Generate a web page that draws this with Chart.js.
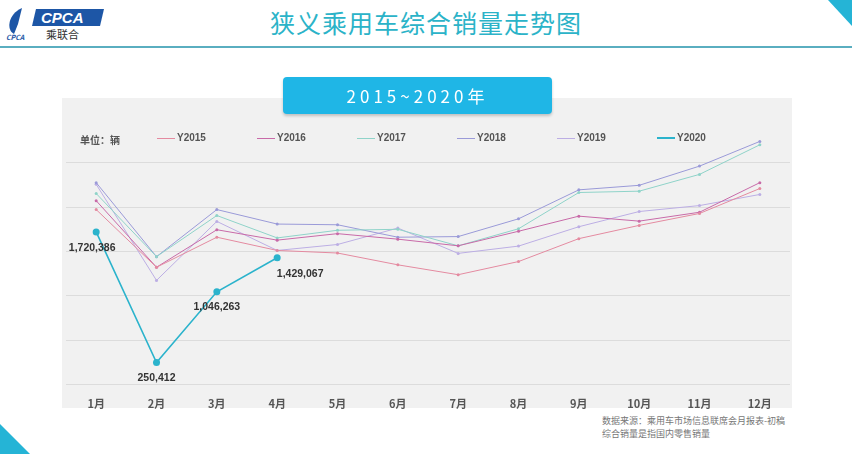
<!DOCTYPE html>
<html><head><meta charset="utf-8">
<script src="https://cdn.jsdelivr.net/npm/chart.js@4"></script>
<style>
body{margin:0;width:852px;height:454px;background:#fff;position:relative;overflow:hidden;font-family:"Noto Sans CJK SC",sans-serif}
#hdr{position:absolute;left:0;top:0;width:852px;text-align:center;top:4px;font-size:25px;color:#2bb3c8;letter-spacing:1px}
#line{position:absolute;left:0;top:46px;width:852px;height:2px;background:#5aaec0}
#panel{position:absolute;left:62px;top:98px;width:730px;height:310px;background:#f1f1f1}
#box{position:absolute;left:283px;top:77px;width:269px;height:37px;background:#1fb6e6;border-radius:4px;color:#fff;font-size:17px;text-align:center;line-height:37px;letter-spacing:4px;box-shadow:0 2px 3px rgba(0,0,0,.2)}
#cv{position:absolute;left:62px;top:98px}
#leg{position:absolute;left:62px;top:132px;width:730px;height:18px;font-size:10px;font-weight:bold;color:#555;font-family:"Liberation Sans",sans-serif}
#leg span{position:absolute;top:0}
.sw{display:inline-block;width:18px;height:1px;vertical-align:middle;margin-right:2px;position:relative}
.src{position:absolute;left:602px;top:414px;font-size:9px;color:#777;line-height:13px}
#logo{position:absolute;left:4px;top:4px}
</style></head><body>
<div id="logo">
 <svg width="105" height="38"><path d="M18 4 C4 10 2 26 10 30 L14 20 Z" fill="#1d56a6"/><polygon points="32,5 100,5 96,22 28,22" fill="#1d56a6"/><text x="37" y="19" fill="#fff" font-size="15" font-style="italic" font-family="Liberation Sans" font-weight="bold">CPCA</text><text x="42" y="35" fill="#333" font-size="11">乘联合</text><text x="2" y="36" fill="#1d56a6" font-size="7" font-style="italic" font-weight="bold">CPCA</text></svg>
</div>
<div id="hdr">狭义乘用车综合销量走势图</div>
<div id="line"></div>
<svg style="position:absolute;left:820px;top:0" width="32" height="30"><polygon points="8,0 32,0 32,26" fill="#25b4d6"/></svg>
<svg style="position:absolute;left:0;top:420px" width="30" height="34"><polygon points="0,4 0,34 30,34" fill="#25b4d6"/></svg>
<div id="panel"></div>
<canvas id="cv" width="732" height="316"></canvas>
<div id="box">2015~2020年</div>
<div id="leg"></div>
<div class="src">数据来源：乘用车市场信息联席会月报表-初稿<br>综合销量是指国内零售销量</div>
<script>
const months=['1月','2月','3月','4月','5月','6月','7月','8月','9月','10月','11月','12月'];
const seriesNames=['Y2015','Y2016','Y2017','Y2018','Y2019','Y2020'];
const y2015=[1972000,1323000,1661000,1512000,1483000,1350000,1239000,1387000,1645000,1794000,1928000,2209000];
const y2016=[2072000,1323000,1745000,1628000,1701000,1639000,1564000,1728000,1898000,1842000,1942000,2275000];
const y2017=[2153000,1442000,1905000,1653000,1739000,1750000,1564000,1756000,2164000,2179000,2368000,2701000];
const y2018=[2275000,1442000,1972000,1809000,1801000,1661000,1668000,1868000,2194000,2245000,2461000,2739000];
const y2019=[2256000,1175000,1839000,1512000,1579000,1764000,1479000,1561000,1779000,1950000,2017000,2142000];
const y2020=[1720386,250412,1046263,1429067];
const colors=['#e48aa0','#c86aa8','#8fd3c9','#9a9ad8','#bcaee4','#2bb3cc'];
const all=[y2015,y2016,y2017,y2018,y2019,y2020];
const legX=[95,195,295,395,495,595];
const leg=document.getElementById('leg');
leg.innerHTML='<span style="left:18px;font-family:Noto Sans CJK SC">单位：辆</span>'+seriesNames.map((n,i)=>`<span style="left:${legX[i]}px"><i class="sw" style="background:${colors[i]};${i==5?'height:2px':''}"></i>${n}</span>`).join('');
const labelOffsets=[[-4,16],[0,16],[0,15],[23,16]];
const lbl={id:'lbl',afterDatasetsDraw(c){const ctx=c.ctx;const m=c.getDatasetMeta(5);ctx.save();ctx.font='bold 10.5px Liberation Sans';ctx.fillStyle='#333';ctx.textAlign='center';ctx.textBaseline='middle';
m.data.forEach((p,i)=>{ctx.fillText(y2020[i].toLocaleString('en-US'),p.x+labelOffsets[i][0],p.y+labelOffsets[i][1]);});ctx.restore();}};
new Chart(document.getElementById('cv'),{type:'line',
data:{labels:months,datasets:all.map((d,i)=>({label:seriesNames[i],data:d,borderColor:colors[i],backgroundColor:colors[i],
borderWidth:i==5?1.6:1,pointRadius:i==5?3.5:1.5,pointBorderWidth:0,tension:0}))},
options:{responsive:false,animation:false,layout:{padding:{top:38,left:4,right:0,bottom:0}},
plugins:{legend:{display:false},tooltip:{enabled:false}},
scales:{x:{offset:true,grid:{display:false},border:{display:false},ticks:{color:'#555',font:{size:11,weight:'bold',family:'Noto Sans CJK SC'},padding:4}},
y:{min:0,max:2800000,afterBuildTicks(a){a.ticks=[0,500000,1000000,1500000,2000000,2500000].map(v=>({value:v}));},
afterFit(a){a.width=0;},
grid:{color:'#dcdcdc',drawTicks:false},border:{display:false},ticks:{display:false}}}},
plugins:[lbl]});
</script></body></html>
